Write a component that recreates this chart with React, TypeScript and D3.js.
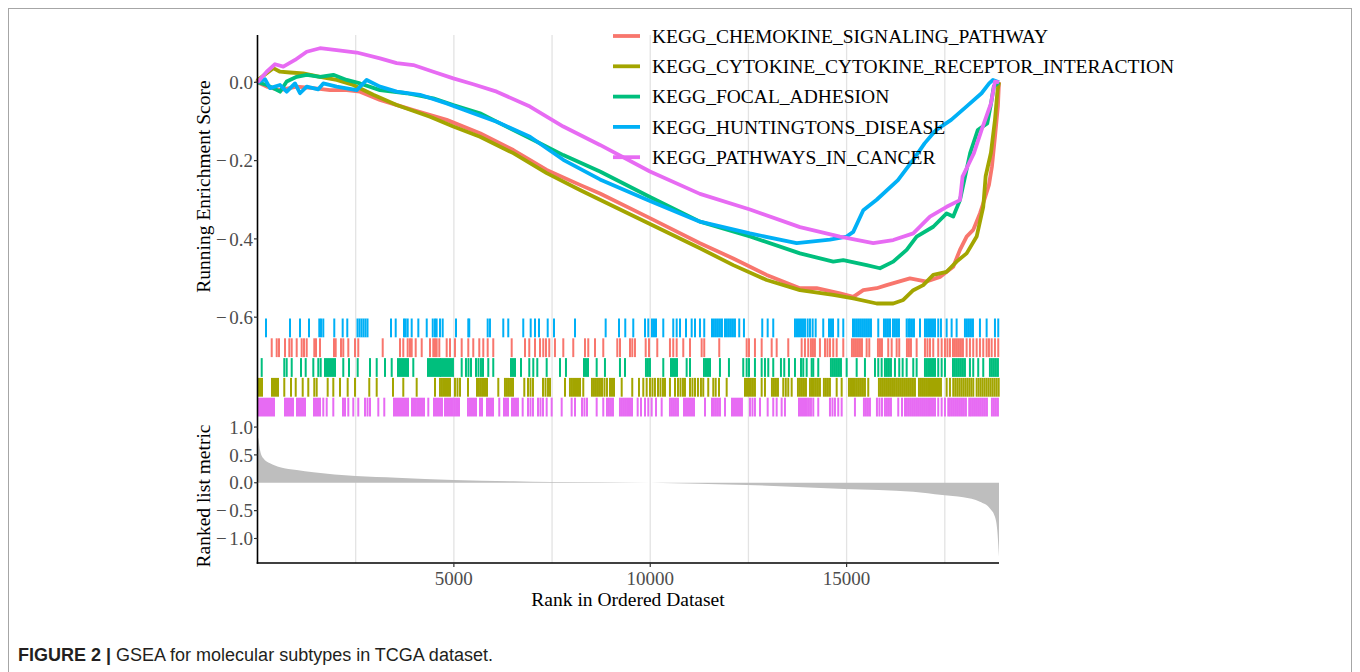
import React from 'react';
import * as d3 from 'd3';

type Pt = [number, number];

const geneSets = [
  'KEGG_CHEMOKINE_SIGNALING_PATHWAY',
  'KEGG_CYTOKINE_CYTOKINE_RECEPTOR_INTERACTION',
  'KEGG_FOCAL_ADHESION',
  'KEGG_HUNTINGTONS_DISEASE',
  'KEGG_PATHWAYS_IN_CANCER',
];
const setColors = ['#F8766D', '#A3A500', '#00BF7D', '#00B0F6', '#E76BF3'];

// running enrichment score, [rank, ES]
const chemokineES: Pt[] = [[0,0],[234,-0.011],[573,-0.02],[998,-0.011],[1421,-0.015],[1846,-0.02],[2271,-0.02],[2610,-0.024],[3119,-0.045],[3967,-0.071],[4817,-0.096],[5665,-0.13],[6513,-0.173],[7363,-0.224],[8211,-0.262],[8720,-0.284],[9993,-0.347],[11266,-0.411],[12114,-0.45],[12964,-0.492],[13812,-0.526],[14237,-0.526],[14830,-0.539],[15169,-0.548],[15424,-0.531],[15765,-0.526],[16019,-0.518],[16612,-0.501],[17038,-0.509],[17377,-0.497],[17715,-0.471],[17886,-0.428],[18056,-0.394],[18224,-0.377],[18395,-0.335],[18479,-0.309],[18624,-0.262],[18700,-0.215],[18777,-0.14],[18853,-0.06],[18880,0]];
const cytokineES: Pt[] = [[0,0],[5,0.006],[234,0.023],[402,0.036],[573,0.027],[827,0.025],[1166,0.023],[1591,0.014],[2016,0.006],[2439,-0.007],[2948,-0.032],[3544,-0.058],[4392,-0.088],[4985,-0.113],[5665,-0.139],[6513,-0.181],[7363,-0.232],[8211,-0.275],[8720,-0.3],[9993,-0.362],[11266,-0.424],[12114,-0.467],[12964,-0.505],[13812,-0.531],[14660,-0.543],[15169,-0.552],[15765,-0.565],[16187,-0.565],[16442,-0.556],[16697,-0.531],[16951,-0.518],[17206,-0.492],[17547,-0.484],[17801,-0.458],[18056,-0.437],[18311,-0.394],[18479,-0.318],[18540,-0.24],[18675,-0.18],[18777,-0.096],[18843,-0.02],[18880,0]];
const focalES: Pt[] = [[0,0],[234,-0.007],[402,-0.015],[573,-0.024],[743,0.002],[998,0.014],[1253,0.019],[1591,0.014],[1930,0.019],[2271,0.006],[2610,-0.003],[3119,-0.02],[3799,-0.028],[4476,-0.041],[4985,-0.058],[5665,-0.079],[6175,-0.105],[6938,-0.143],[7786,-0.186],[8720,-0.228],[9993,-0.293],[11266,-0.356],[12539,-0.394],[13812,-0.437],[14660,-0.458],[14915,-0.454],[15510,-0.467],[15849,-0.475],[16187,-0.458],[16529,-0.428],[16783,-0.394],[17206,-0.369],[17547,-0.335],[17715,-0.343],[17886,-0.301],[18145,-0.181],[18339,-0.122],[18581,-0.105],[18678,-0.054],[18747,-0.011],[18880,0]];
const huntingtonES: Pt[] = [[0,0],[191,0.008],[318,-0.015],[573,-0.007],[743,-0.024],[955,-0.003],[1082,-0.028],[1253,-0.011],[1548,-0.018],[1675,-0.003],[2016,-0.011],[2526,-0.02],[2780,0.006],[3119,-0.011],[3544,-0.024],[4137,-0.032],[4817,-0.054],[5494,-0.079],[6090,-0.101],[6938,-0.139],[7786,-0.198],[8720,-0.248],[9993,-0.303],[11266,-0.356],[12539,-0.386],[13728,-0.411],[14576,-0.402],[15001,-0.394],[15169,-0.382],[15424,-0.327],[15765,-0.3],[16307,-0.25],[16694,-0.198],[16985,-0.156],[17275,-0.122],[17662,-0.096],[18049,-0.062],[18436,-0.028],[18629,-0.003],[18726,0.006],[18880,0]];
const pathwaysES: Pt[] = [[0,0],[234,0.027],[446,0.046],[657,0.04],[955,0.057],[1253,0.078],[1591,0.087],[2016,0.082],[2526,0.076],[3119,0.061],[3544,0.049],[3967,0.044],[4476,0.027],[4985,0.01],[5494,-0.005],[6090,-0.024],[6938,-0.062],[7786,-0.113],[8720,-0.16],[9993,-0.228],[11266,-0.285],[12539,-0.325],[13812,-0.37],[14830,-0.394],[15678,-0.411],[16187,-0.403],[16697,-0.386],[17122,-0.343],[17547,-0.318],[17886,-0.301],[17952,-0.241],[18242,-0.181],[18435,-0.122],[18675,-0.054],[18777,0.002],[18880,0]];

// gene hit positions (rank)
const chemokineHits = [362,489,547,700,810,871,998,1125,1184,1253,1446,1489,1591,1948,1991,2126,2184,2312,2482,2566,3188,3628,3712,3824,3883,3926,4028,4181,4392,4476,4519,4562,4629,4817,4901,5028,5199,5367,5494,5647,5749,5861,6003,6472,6811,6920,7065,7193,7276,7345,7429,7574,7786,8040,8338,8422,8593,8804,9161,9230,9484,9543,9611,9884,9968,10179,10502,10586,10673,10841,11012,11309,11375,11757,12455,12514,12666,12837,13092,13219,13514,13855,13939,14023,14092,14143,14193,14321,14449,14512,14576,14660,14747,14915,15136,15187,15238,15289,15340,15391,15510,15577,15798,15849,15900,16060,16147,16274,16340,16536,16587,16638,16783,16995,17058,17122,17206,17333,17420,17504,17567,17631,17708,17758,17809,17860,17911,17962,18056,18140,18224,18311,18395,18479,18565,18624,18693,18777,18861];
const cytokineHits = [13,64,115,369,420,471,522,682,853,973,1151,1293,1446,1507,1787,1930,2100,2296,2482,2846,3035,3450,3712,4053,4519,4646,4697,4748,4799,4850,4901,5028,5092,5156,5360,5589,5639,5690,5741,5792,5843,6131,6301,6352,6403,6454,6505,6793,6887,6951,7014,7269,7333,7396,7447,7829,7956,8007,8058,8109,8160,8211,8295,8516,8567,8618,8669,8720,8771,8835,8898,8975,9026,9077,9273,9542,9713,9823,9909,9993,10057,10120,10197,10260,10324,10375,10502,10630,10706,10770,10833,10884,11012,11075,11139,11215,11291,11350,11477,11605,11666,11750,11946,12412,12463,12514,12564,12615,12666,12837,12921,13099,13150,13201,13252,13387,13451,13514,13601,13761,13812,13863,13914,13965,14067,14118,14168,14219,14270,14321,14422,14473,14524,14575,14747,14874,15060,15111,15162,15212,15263,15314,15365,15416,15467,15551,15823,15874,15925,15976,16027,16078,16129,16180,16230,16281,16332,16383,16434,16485,16536,16587,16638,16689,16740,16842,16893,16944,16995,17046,17097,17148,17199,17250,17301,17352,17402,17547,17631,17715,17766,17817,17868,17919,17970,18021,18072,18123,18174,18225,18311,18362,18413,18464,18515,18566,18617,18668,18719,18770,18821,18872];
const focalHits = [107,682,743,871,1108,1227,1421,1548,1609,1719,1769,1820,1871,1922,1973,2184,2330,2551,2864,3035,3246,3417,3577,3628,3679,3730,3781,3832,3967,4341,4392,4443,4494,4545,4596,4647,4672,4723,4774,4825,4876,4927,4977,5199,5308,5372,5436,5563,5627,5690,5741,5876,6003,6454,6505,6556,6709,6920,7022,7124,7363,7702,7854,8313,8364,8415,8636,8847,9229,9357,9891,9942,9993,10332,10528,10579,10630,10681,10927,11012,11368,11419,11470,11521,11775,12004,12368,12455,12514,12666,12837,12921,13005,13132,13328,13412,13532,13685,13838,13896,13983,14110,14151,14278,14601,14652,14703,14754,14805,14856,15001,15256,15467,15722,15806,15892,15976,16027,16078,16129,16231,16340,16427,16529,16697,16783,16995,17046,17097,17148,17199,17250,17333,17420,17504,17708,17758,17809,17860,17911,17962,18013,18140,18224,18351,18479,18649,18700,18751,18802,18853];
const huntingtonHits = [216,827,1082,1311,1573,1617,1675,1955,2169,2286,2546,2597,2648,2699,2750,2801,3399,3519,3730,3773,3824,3926,4095,4309,4462,4519,4561,4647,4715,5054,5367,5392,5861,5919,6258,6385,6767,6956,7065,7167,7389,7549,8084,8865,9204,9364,9568,9866,9950,10044,10095,10146,10332,10586,10673,10757,10910,11055,11139,11266,11375,11572,11622,11673,11724,11775,11826,11903,11953,12004,12055,12106,12157,12266,12386,12852,12990,13132,13685,13736,13787,13838,13889,13940,14008,14067,14135,14212,14405,14551,14602,14653,14787,14915,15162,15212,15263,15314,15365,15416,15467,15518,15569,15620,15806,15951,16002,16053,16104,16180,16231,16282,16333,16529,16575,16613,16664,16715,16868,16995,17046,17097,17148,17199,17250,17333,17402,17547,17674,17801,18013,18064,18115,18166,18217,18395,18565,18777,18861];
const pathwaysHits = [13,64,115,166,216,267,318,369,420,700,751,802,853,904,1006,1057,1108,1158,1209,1438,1489,1540,1591,1675,1762,1930,2177,2228,2312,2439,2566,2737,2801,2864,3076,3228,3475,3526,3577,3628,3679,3730,3781,3832,3934,3985,4035,4086,4137,4188,4239,4349,4494,4545,4596,4647,4697,4774,4825,4876,4927,4977,5028,5079,5130,5359,5410,5461,5512,5563,5665,5716,5843,5894,5945,5996,6156,6276,6327,6378,6480,6531,6582,6632,6752,6887,6951,7014,7142,7205,7269,7363,7490,7745,7999,8084,8262,8325,8389,8636,8804,8898,8949,9000,9051,9229,9280,9331,9382,9433,9484,9535,9680,9764,9866,9950,10036,10146,10291,10502,10553,10604,10655,10706,10859,10910,10961,11012,11063,11114,11394,11572,11622,11673,11724,11775,11903,12081,12132,12183,12234,12285,12335,12539,12603,12666,12794,12990,13132,13219,13346,13430,13787,13838,13889,13940,13990,14041,14092,14151,14278,14576,14640,14703,14787,14874,15212,15441,15492,15543,15594,15772,15836,15900,15976,16027,16078,16129,16315,16410,16486,16536,16587,16638,16689,16740,16791,16842,16893,16944,16995,17046,17097,17148,17199,17250,17333,17420,17504,17588,17631,17682,17733,17784,17835,17886,17937,17987,18038,18122,18166,18217,18268,18319,18370,18420,18471,18522,18573,18700,18751,18802,18853];

// ranked list metric, [rank, value]
const rankedMetric: Pt[] = [[0,0.82],[20,0.8],[64,0.59],[148,0.44],[318,0.35],[573,0.28],[998,0.23],[1421,0.19],[2500,0.12],[3544,0.09],[4985,0.05],[6513,0.025],[7473,0.012],[10000,0],[12455,-0.04],[14940,-0.11],[16697,-0.16],[17435,-0.22],[17970,-0.26],[18395,-0.34],[18650,-0.46],[18777,-0.61],[18835,-0.85],[18880,-1.33]];

const esSeries = [chemokineES, cytokineES, focalES, huntingtonES, pathwaysES];
const hitSeries = [chemokineHits, cytokineHits, focalHits, huntingtonHits, pathwaysHits];
const rugRows = [3, 0, 2, 1, 4]; // top to bottom

const rankTicks = [5000, 10000, 15000];
const gridRanks = [2500, 5000, 7500, 10000, 12500, 15000, 17500];
const esTicks = [0, -0.2, -0.4, -0.6];
const metricTicks = [1, 0.5, 0, -0.5, -1];

const serif = '"Liberation Serif", "Times New Roman", serif';

// ggplot-style label: long minus sign with a little gap before the digits
const TickLabel = ({ v, x, y }: { v: number; x: number; y: number }) => {
  const s = d3.format('.1f')(Math.abs(v));
  return (
    <text x={x} y={y} dy="0.35em" textAnchor="end">
      {v < 0 && <tspan>{'\u2212'}</tspan>}
      <tspan dx={v < 0 ? 2.5 : 0}>{s}</tspan>
    </text>
  );
};

export default function App() {
  const x = d3.scaleLinear().domain([0, 18880]).range([257.5, 999]);
  const yES = d3.scaleLinear().domain([-0.6, 0.12]).range([317.2, 35.3]);
  const yM = d3.scaleLinear().domain([-1.44, 1.18]).range([563, 417]);
  const rug = d3.scaleBand<number>().domain(rugRows).range([318, 417]);

  const line = d3.line<Pt>().x(d => x(d[0])).y(d => yES(d[1]));
  const area = d3.area<Pt>()
    .x(d => x(d[0]))
    .y0(yM(0))
    .y1(d => yM(d[1]))
    .curve(d3.curveMonotoneX);

  const x0 = x.range()[0];

  return (
    <svg width={1360} height={672} style={{ position: 'absolute', left: 0, top: 0, background: '#fff' }}>
      <rect x={8.5} y={8.5} width={1343} height={700} fill="none" stroke="#a6a6a6" strokeWidth={1} />

      {/* grid */}
      <g stroke="#e3e3e3" strokeWidth={1.3}>
        {gridRanks.map(r => (
          <line key={r} x1={x(r)} x2={x(r)} y1={35} y2={563} />
        ))}
      </g>

      {/* running enrichment score */}
      <g fill="none" strokeWidth={3.8} strokeLinejoin="round">
        {esSeries.map((s, i) => (
          <path key={i} d={line(s) || ''} stroke={setColors[i]} />
        ))}
      </g>

      {/* hits */}
      {rugRows.map(si => (
        <g key={si} stroke={setColors[si]} strokeWidth={2}>
          {hitSeries[si].map((h, j) => (
            <line key={j} x1={x(h)} x2={x(h)} y1={(rug(si) || 0) + 0.5} y2={(rug(si) || 0) + rug.bandwidth() - 0.5} />
          ))}
        </g>
      ))}

      {/* ranked metric */}
      <path d={area(rankedMetric) || ''} fill="#bebebe" />

      {/* axes */}
      <g stroke="#000" strokeWidth={1.6}>
        <line x1={x0} x2={x0} y1={35} y2={563.8} />
        <line x1={x0 - 0.8} x2={x.range()[1]} y1={563} y2={563} />
      </g>
      <g stroke="#333" strokeWidth={1.2}>
        {esTicks.map(t => <line key={'e' + t} x1={x0 - 3.5} x2={x0} y1={yES(t)} y2={yES(t)} />)}
        {metricTicks.map(t => <line key={'m' + t} x1={x0 - 3.5} x2={x0} y1={yM(t)} y2={yM(t)} />)}
        {rankTicks.map(t => <line key={'r' + t} x1={x(t)} x2={x(t)} y1={563} y2={567} />)}
      </g>
      <g fontFamily={serif} fontSize={19} fill="#4d4d4d">
        {esTicks.map(t => <TickLabel key={'e' + t} v={t} x={x0 - 4.5} y={yES(t)} />)}
        {metricTicks.map(t => <TickLabel key={'m' + t} v={t} x={x0 - 4.5} y={yM(t)} />)}
        {rankTicks.map(t => (
          <text key={'r' + t} x={x(t)} y={585} textAnchor="middle">{t}</text>
        ))}
      </g>

      <g fontFamily={serif} fontSize={19.5} fill="#000">
        <text x={628} y={606} textAnchor="middle">Rank in Ordered Dataset</text>
        <text transform="translate(210,186.5) rotate(-90)" textAnchor="middle">Running Enrichment Score</text>
        <text transform="translate(210,496) rotate(-90)" textAnchor="middle">Ranked list metric</text>
      </g>

      {/* legend */}
      <g fontFamily={serif} fontSize={19.5}>
        {geneSets.map((g, i) => {
          const cy = 36 + i * 30.3;
          return (
            <g key={g}>
              <line x1={613} x2={640} y1={cy} y2={cy} stroke={setColors[i]} strokeWidth={3.8} />
              <text x={652} y={cy} dy="0.35em" fill="#000">{g}</text>
            </g>
          );
        })}
      </g>

      {/* caption */}
      <text x={18} y={661} fontFamily='"Liberation Sans", Arial, sans-serif' fontSize={18} fill="#231f20">
        <tspan fontWeight="bold">FIGURE 2 |</tspan>
        <tspan> GSEA for molecular subtypes in TCGA dataset.</tspan>
      </text>
    </svg>
  );
}
